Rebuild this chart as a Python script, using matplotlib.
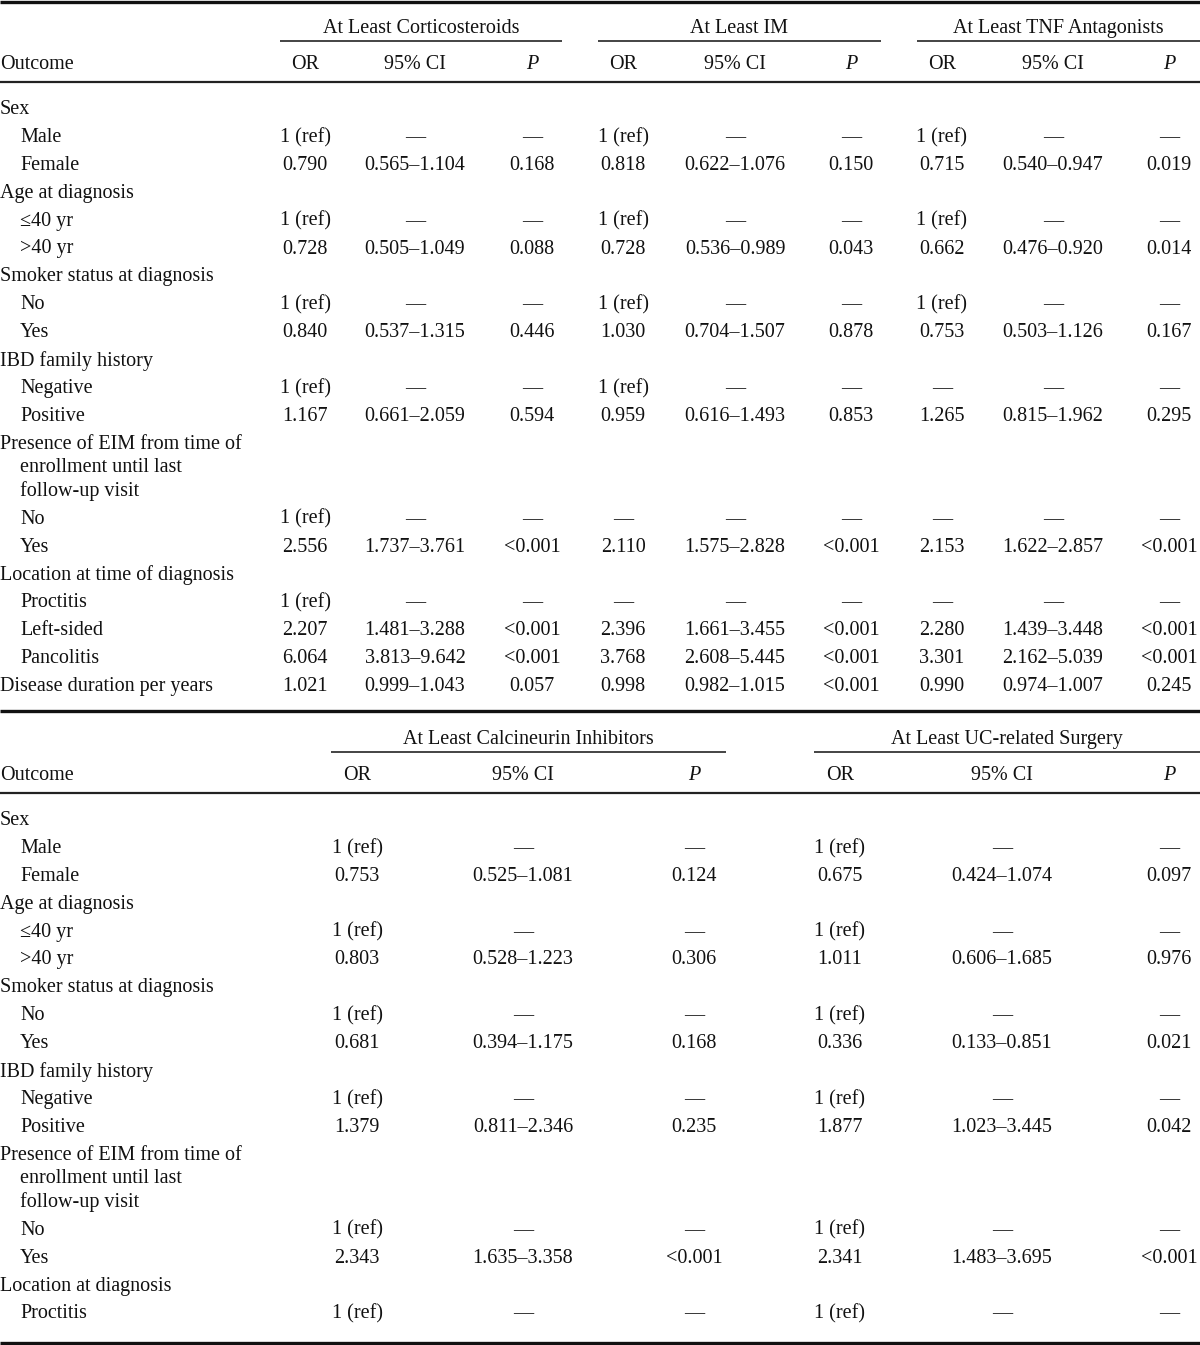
import matplotlib.pyplot as plt

plt.rcParams['font.family'] = ['Liberation Serif', 'DejaVu Serif']

# ===== Data ============
top_groups = ["At Least Corticosteroids", "At Least IM", "At Least TNF Antagonists"]
bottom_groups = ["At Least Calcineurin Inhibitors", "At Least UC-related Surgery"]

top_labels = ["Sex", "Male", "Female", "Age at diagnosis", "≤40 yr", ">40 yr",
              "Smoker status at diagnosis", "No", "Yes", "IBD family history",
              "Negative", "Positive",
              "Presence of EIM from time of\nenrollment until last\nfollow-up visit",
              "No", "Yes", "Location at time of diagnosis", "Proctitis",
              "Left-sided", "Pancolitis", "Disease duration per years"]
top_indent = [0, 1, 1, 0, 1, 1, 0, 1, 1, 0, 1, 1, 0, 1, 1, 0, 1, 1, 1, 0]

cortico_or = ["", "1 (ref)", "0.790", "", "1 (ref)", "0.728", "", "1 (ref)", "0.840", "",
              "1 (ref)", "1.167", "", "1 (ref)", "2.556", "", "1 (ref)", "2.207", "6.064", "1.021"]
cortico_ci = ["", "—", "0.565–1.104", "", "—", "0.505–1.049", "", "—", "0.537–1.315", "",
              "—", "0.661–2.059", "", "—", "1.737–3.761", "", "—", "1.481–3.288", "3.813–9.642", "0.999–1.043"]
cortico_p = ["", "—", "0.168", "", "—", "0.088", "", "—", "0.446", "",
             "—", "0.594", "", "—", "<0.001", "", "—", "<0.001", "<0.001", "0.057"]

im_or = ["", "1 (ref)", "0.818", "", "1 (ref)", "0.728", "", "1 (ref)", "1.030", "",
         "1 (ref)", "0.959", "", "—", "2.110", "", "—", "2.396", "3.768", "0.998"]
im_ci = ["", "—", "0.622–1.076", "", "—", "0.536–0.989", "", "—", "0.704–1.507", "",
         "—", "0.616–1.493", "", "—", "1.575–2.828", "", "—", "1.661–3.455", "2.608–5.445", "0.982–1.015"]
im_p = ["", "—", "0.150", "", "—", "0.043", "", "—", "0.878", "",
        "—", "0.853", "", "—", "<0.001", "", "—", "<0.001", "<0.001", "<0.001"]

tnf_or = ["", "1 (ref)", "0.715", "", "1 (ref)", "0.662", "", "1 (ref)", "0.753", "",
          "—", "1.265", "", "—", "2.153", "", "—", "2.280", "3.301", "0.990"]
tnf_ci = ["", "—", "0.540–0.947", "", "—", "0.476–0.920", "", "—", "0.503–1.126", "",
          "—", "0.815–1.962", "", "—", "1.622–2.857", "", "—", "1.439–3.448", "2.162–5.039", "0.974–1.007"]
tnf_p = ["", "—", "0.019", "", "—", "0.014", "", "—", "0.167", "",
         "—", "0.295", "", "—", "<0.001", "", "—", "<0.001", "<0.001", "0.245"]

bottom_labels = ["Sex", "Male", "Female", "Age at diagnosis", "≤40 yr", ">40 yr",
                 "Smoker status at diagnosis", "No", "Yes", "IBD family history",
                 "Negative", "Positive",
                 "Presence of EIM from time of\nenrollment until last\nfollow-up visit",
                 "No", "Yes", "Location at diagnosis", "Proctitis"]
bottom_indent = [0, 1, 1, 0, 1, 1, 0, 1, 1, 0, 1, 1, 0, 1, 1, 0, 1]

cni_or = ["", "1 (ref)", "0.753", "", "1 (ref)", "0.803", "", "1 (ref)", "0.681", "",
          "1 (ref)", "1.379", "", "1 (ref)", "2.343", "", "1 (ref)"]
cni_ci = ["", "—", "0.525–1.081", "", "—", "0.528–1.223", "", "—", "0.394–1.175", "",
          "—", "0.811–2.346", "", "—", "1.635–3.358", "", "—"]
cni_p = ["", "—", "0.124", "", "—", "0.306", "", "—", "0.168", "",
         "—", "0.235", "", "—", "<0.001", "", "—"]

surg_or = ["", "1 (ref)", "0.675", "", "1 (ref)", "1.011", "", "1 (ref)", "0.336", "",
           "1 (ref)", "1.877", "", "1 (ref)", "2.341", "", "1 (ref)"]
surg_ci = ["", "—", "0.424–1.074", "", "—", "0.606–1.685", "", "—", "0.133–0.851", "",
           "—", "1.023–3.445", "", "—", "1.483–3.695", "", "—"]
surg_p = ["", "—", "0.097", "", "—", "0.976", "", "—", "0.021", "",
          "—", "0.042", "", "—", "<0.001", "", "—"]

# ===== Layout ============
FS = 14.5
ROW = 27.9
WRAP = 23.5

fig = plt.figure(figsize=(12, 13.45), dpi=100)
ax = fig.add_axes([0, 0, 1, 1])
ax.set_xlim(0, 1200)
ax.set_ylim(1345, 0)
ax.axis('off')


def txt(x, y, s, ha='center', **kw):
    ax.text(x, y, s, ha=ha, va='center_baseline', fontsize=FS, color='#111111', **kw)


def draw_table(y0, groups, spans, col_x, labels, indent, columns):
    # group headers and their underlines
    for g, (x1, x2) in zip(groups, spans):
        txt((x1 + x2) / 2, y0 + 26, g)
        ax.plot([x1, x2], [y0 + 41, y0 + 41], color='#111111', lw=1.1, solid_capstyle='butt')
    # column headers
    txt(0, y0 + 62, "Outcome", ha='left')
    for i, x in enumerate(col_x):
        kind = i % 3
        if kind == 0:
            txt(x, y0 + 62, "OR")
        elif kind == 1:
            txt(x, y0 + 62, "95% CI")
        else:
            txt(x, y0 + 62, "P", style='italic')
    ax.plot([0, 1200], [y0 + 82, y0 + 82], color='#222222', lw=1.6, solid_capstyle='butt')

    # body rows
    y = y0 + 107
    for r, lab in enumerate(labels):
        lines = lab.split("\n")
        for k, line in enumerate(lines):
            x = 20 if (indent[r] or k > 0) else 0
            txt(x, y + k * WRAP, line, ha='left')
        for x, col in zip(col_x, columns):
            if col[r]:
                txt(x, y, col[r])
        y += ROW + (len(lines) - 1) * WRAP
    return y


# top table
ax.plot([0, 1200], [1.5, 1.5], color='#111111', lw=2.4, solid_capstyle='butt')
draw_table(0, top_groups,
           [(280, 562), (598, 881), (917, 1200)],
           [305, 415, 532, 623, 735, 851, 942, 1053, 1169],
           top_labels, top_indent,
           [cortico_or, cortico_ci, cortico_p, im_or, im_ci, im_p, tnf_or, tnf_ci, tnf_p])

ax.plot([0, 1200], [711, 711], color='#111111', lw=2.4, solid_capstyle='butt')

# bottom table
draw_table(711, bottom_groups,
           [(331, 726), (814, 1200)],
           [357, 523, 694, 840, 1002, 1169],
           bottom_labels, bottom_indent,
           [cni_or, cni_ci, cni_p, surg_or, surg_ci, surg_p])

ax.plot([0, 1200], [1342.5, 1342.5], color='#111111', lw=2.4, solid_capstyle='butt')

fig.savefig("out.png", dpi=100)
